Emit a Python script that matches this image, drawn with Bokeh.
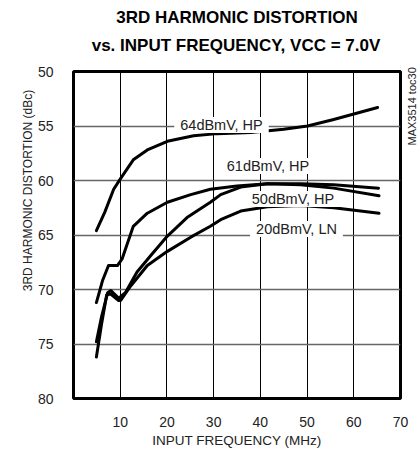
import math
from bokeh.plotting import figure
from bokeh.models import Label, FixedTicker, Range1d, Title, LinearAxis
from bokeh.embed import file_html
from bokeh.resources import INLINE

# ---- data (frequency in MHz, 3rd harmonic distortion in dBc) ----
freq_64 = [4.9, 6.7, 8.6, 10.1, 12.8, 15.8, 20.1, 25.7, 30.8, 37.9, 45.0, 50.1, 55.7, 65.1]
hd3_64 = [-64.6, -62.9, -60.8, -59.8, -58.1, -57.2, -56.4, -55.9, -55.7, -55.6, -55.3, -55.0, -54.4, -53.3]

freq_61 = [4.9, 6.2, 7.5, 9.4, 10.4, 12.8, 15.8, 20.1, 25.1, 29.3, 35.0, 41.5, 48.6, 55.7, 65.3]
hd3_61 = [-71.2, -69.2, -67.8, -67.8, -67.2, -64.2, -63.0, -62.0, -61.3, -60.8, -60.5, -60.3, -60.3, -60.4, -60.7]

freq_50 = [4.9, 6.0, 7.3, 8.0, 9.7, 11.1, 13.6, 16.5, 20.1, 24.3, 29.3, 31.5, 35.8, 41.5, 48.6, 55.7, 65.4]
hd3_50 = [-74.8, -72.5, -70.3, -70.1, -70.8, -70.3, -68.4, -66.9, -65.1, -63.4, -62.0, -61.3, -60.6, -60.3, -60.4, -60.7, -61.4]

freq_20 = [4.9, 6.0, 7.1, 7.9, 9.6, 10.1, 12.2, 15.8, 20.1, 25.1, 29.3, 31.5, 35.8, 41.5, 48.6, 55.7, 65.4]
hd3_20 = [-76.2, -73.2, -70.5, -70.4, -71.0, -71.0, -69.7, -67.8, -66.5, -65.2, -64.2, -63.6, -62.8, -62.4, -62.3, -62.5, -63.0]

x_ticks = [10, 20, 30, 40, 50, 60, 70]
x_tick_labels = ["10", "20", "30", "40", "50", "60", "70"]
y_ticks = [-80, -75, -70, -65, -60, -55, -50]
y_tick_labels = ["80", "75", "70", "65", "60", "55", "50"]

series_labels = ["64dBmV, HP", "61dBmV, HP", "50dBmV, HP", "20dBmV, LN"]

title_line1 = "3RD HARMONIC DISTORTION"
title_line2 = "vs. INPUT FREQUENCY, VCC = 7.0V"
x_title = "INPUT FREQUENCY (MHz)"
y_title = "3RD HARMONIC DISTORTION (dBc)"
side_note = "MAX3514 toc30"

FONT = "Liberation Sans"

p = figure(frame_width=327, frame_height=327,
           min_border_left=73, min_border_right=17, min_border_top=71, min_border_bottom=58,
           x_range=Range1d(0, 70), y_range=Range1d(-80, -50),
           output_backend="svg", toolbar_location=None)
p.background_fill_color = "white"
p.border_fill_color = "white"
p.outline_line_color = "black"
p.outline_line_width = 3

main_x = p.xaxis[0]
main_y = p.yaxis[0]
main_x.ticker = FixedTicker(ticks=x_ticks)
main_x.major_label_overrides = {t: l for t, l in zip(x_ticks, x_tick_labels)}
main_y.ticker = FixedTicker(ticks=y_ticks)
main_y.major_label_overrides = {t: l for t, l in zip(y_ticks, y_tick_labels)}
for ax in (main_x, main_y):
    ax.axis_line_color = None
    ax.major_tick_line_color = None
    ax.minor_tick_line_color = None
    ax.major_label_text_font = FONT
    ax.major_label_text_font_size = "14px"
    ax.major_label_text_color = "#222222"
main_x.major_label_standoff = 12
main_y.major_label_standoff = 14

p.xgrid.ticker = FixedTicker(ticks=x_ticks[:-1])
p.ygrid.ticker = FixedTicker(ticks=y_ticks[1:-1])
p.xgrid.grid_line_color = "black"
p.xgrid.grid_line_width = 1
p.ygrid.grid_line_color = "#666666"
p.ygrid.grid_line_width = 1.5

for fx, hy in [(freq_64, hd3_64), (freq_61, hd3_61), (freq_50, hd3_50), (freq_20, hd3_20)]:
    p.line(fx, hy, line_color="black", line_width=3, line_join="round", line_cap="round")

def dx(px):
    return (px - 73) / 327 * 70

def dy(py):
    return -50 - (py - 71) / 327 * 30

# series labels (inside the plot frame, data units)
label_pos = [(221, 124.5), (267.5, 165.5), (292.5, 198.5), (296, 228.5)]
for t, (lx, ly) in zip(series_labels, label_pos):
    p.add_layout(Label(x=dx(lx), y=dy(ly), text=t, text_font=FONT, text_font_size="14.5px",
                       text_align="center", text_baseline="middle", text_color="#222222",
                       background_fill_color="white",
                       padding=dict(left=6, right=6, top=0, bottom=0)))

def text_axis(**kw):
    return LinearAxis(axis_line_color=None, major_tick_line_color=None,
                      minor_tick_line_color=None, **kw)

# two-line title: second line as a tick label, first line as the axis label of an axis above
t2_x = dx(235.5)
title_axis = text_axis(ticker=FixedTicker(ticks=[t2_x]),
                       major_label_overrides={t2_x: title_line2},
                       major_label_text_font=FONT, major_label_text_font_size="17px",
                       major_label_text_font_style="bold", major_label_text_color="black",
                       major_label_standoff=11,
                       axis_label=title_line1, axis_label_text_font=FONT,
                       axis_label_text_font_size="17px", axis_label_text_font_style="bold",
                       axis_label_text_color="black", axis_label_standoff=6)
p.add_layout(title_axis, "above")

# y title as a vertical tick label on an outer left axis
yt = dy(190)
ytitle_axis = text_axis(ticker=FixedTicker(ticks=[yt]),
                        major_label_overrides={yt: y_title},
                        major_label_orientation="vertical",
                        major_label_text_font=FONT, major_label_text_font_size="12px",
                        major_label_text_color="#222222", major_label_standoff=-6)
p.add_layout(ytitle_axis, "left")

# x title
p.add_layout(Title(text=x_title, align="center", text_font=FONT, text_font_size="13.5px",
                   text_font_style="normal", text_color="#222222", standoff=2), "below")

# side note as a vertical tick label on a right-hand axis
note_y = dy(145)
note_axis = text_axis(ticker=FixedTicker(ticks=[note_y]),
                      major_label_overrides={note_y: side_note},
                      major_label_orientation=math.pi / 2,
                      major_label_text_font=FONT, major_label_text_font_size="11px",
                      major_label_text_color="#222222", major_label_standoff=5)
p.add_layout(note_axis, "right")

open("out.html", "w").write(file_html(p, INLINE))
